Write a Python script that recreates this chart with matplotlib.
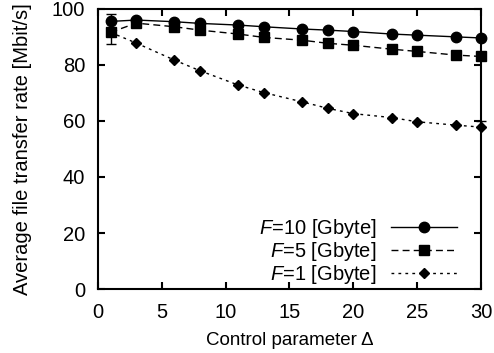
import numpy as np
import matplotlib.pyplot as plt

plt.rcParams['font.family'] = ['Liberation Sans', 'DejaVu Sans']
plt.rcParams['font.size'] = 14.5
plt.rcParams['mathtext.fontset'] = 'custom'
plt.rcParams['mathtext.it'] = 'Liberation Sans:italic'
plt.rcParams['mathtext.rm'] = 'Liberation Sans'

# 制御パラメータ Δ
delta = [1, 3, 6, 8, 11, 13, 16, 18, 20, 23, 25, 28, 30]

# 平均ファイル転送レート [Mbit/s]
rate_f10 = [95.5, 96.0, 95.4, 94.8, 94.2, 93.6, 92.8, 92.4, 91.9, 91.0, 90.6, 90.0, 89.6]
rate_f5 = [91.6, 94.9, 93.6, 92.4, 91.0, 89.8, 88.8, 87.7, 87.0, 85.6, 84.8, 83.5, 83.0]
rate_f1 = [91.6, 87.8, 81.7, 77.9, 72.8, 70.1, 66.8, 64.5, 62.6, 61.2, 59.7, 58.5, 57.8]

# 誤差 (下側, 上側)
err_f10 = [[2.5] + [0] * 12, [2.5] + [0] * 12]
err_f5 = [[4.0] + [0] * 12, [4.0] + [0] * 12]
err_f1 = [[0] * 13, [0] * 12 + [2.0]]

fig = plt.figure(figsize=(4.94, 3.53), dpi=100)
ax = fig.add_axes([0.198, 0.181, 0.776, 0.794])

e10 = ax.errorbar(delta, rate_f10, yerr=err_f10, color='black', lw=1.0, ls='-',
                  marker='o', ms=7.5, capsize=3.5, elinewidth=1.0, clip_on=False,
                  label='$F$=10 [Gbyte]', zorder=3)
e5 = ax.errorbar(delta, rate_f5, yerr=err_f5, color='black', lw=1.0, ls=(0, (5, 3)),
                 marker='s', ms=7.5, capsize=3.5, elinewidth=1.0, clip_on=False,
                 label='$F$=5 [Gbyte]', zorder=4)
e1 = ax.errorbar(delta, rate_f1, yerr=err_f1, color='black', lw=1.0, ls=(0, (2, 3)),
                 marker='D', ms=5, capsize=3.5, elinewidth=1.0, clip_on=False,
                 label='$F$=1 [Gbyte]', zorder=3)

ax.set_xlim(0, 30)
ax.set_ylim(0, 100)
ax.set_xticks(np.arange(0, 31, 5))
ax.set_yticks(np.arange(0, 101, 20))
ax.tick_params(direction='in', length=5, width=1.5, top=True, right=True)
ax.tick_params(axis='x', pad=10)
ax.tick_params(axis='y', pad=9)
for s in ax.spines.values():
    s.set_linewidth(1.5)

ax.set_xlabel('Control parameter Δ', fontsize=13.5, labelpad=7)
ax.set_ylabel('Average file transfer rate [Mbit/s]', labelpad=14)

# 凡例には線とマーカーだけを出す
lines = [e10[0], e5[0], e1[0]]
labels = [e10.get_label(), e5.get_label(), e1.get_label()]
leg = ax.legend(lines, labels, loc='lower right', bbox_to_anchor=(0.937, 0.012),
                frameon=False, markerfirst=False, handlelength=3.3,
                handletextpad=0.7, labelspacing=0.0, borderpad=0, borderaxespad=0)

fig.savefig('out.png', dpi=100)
